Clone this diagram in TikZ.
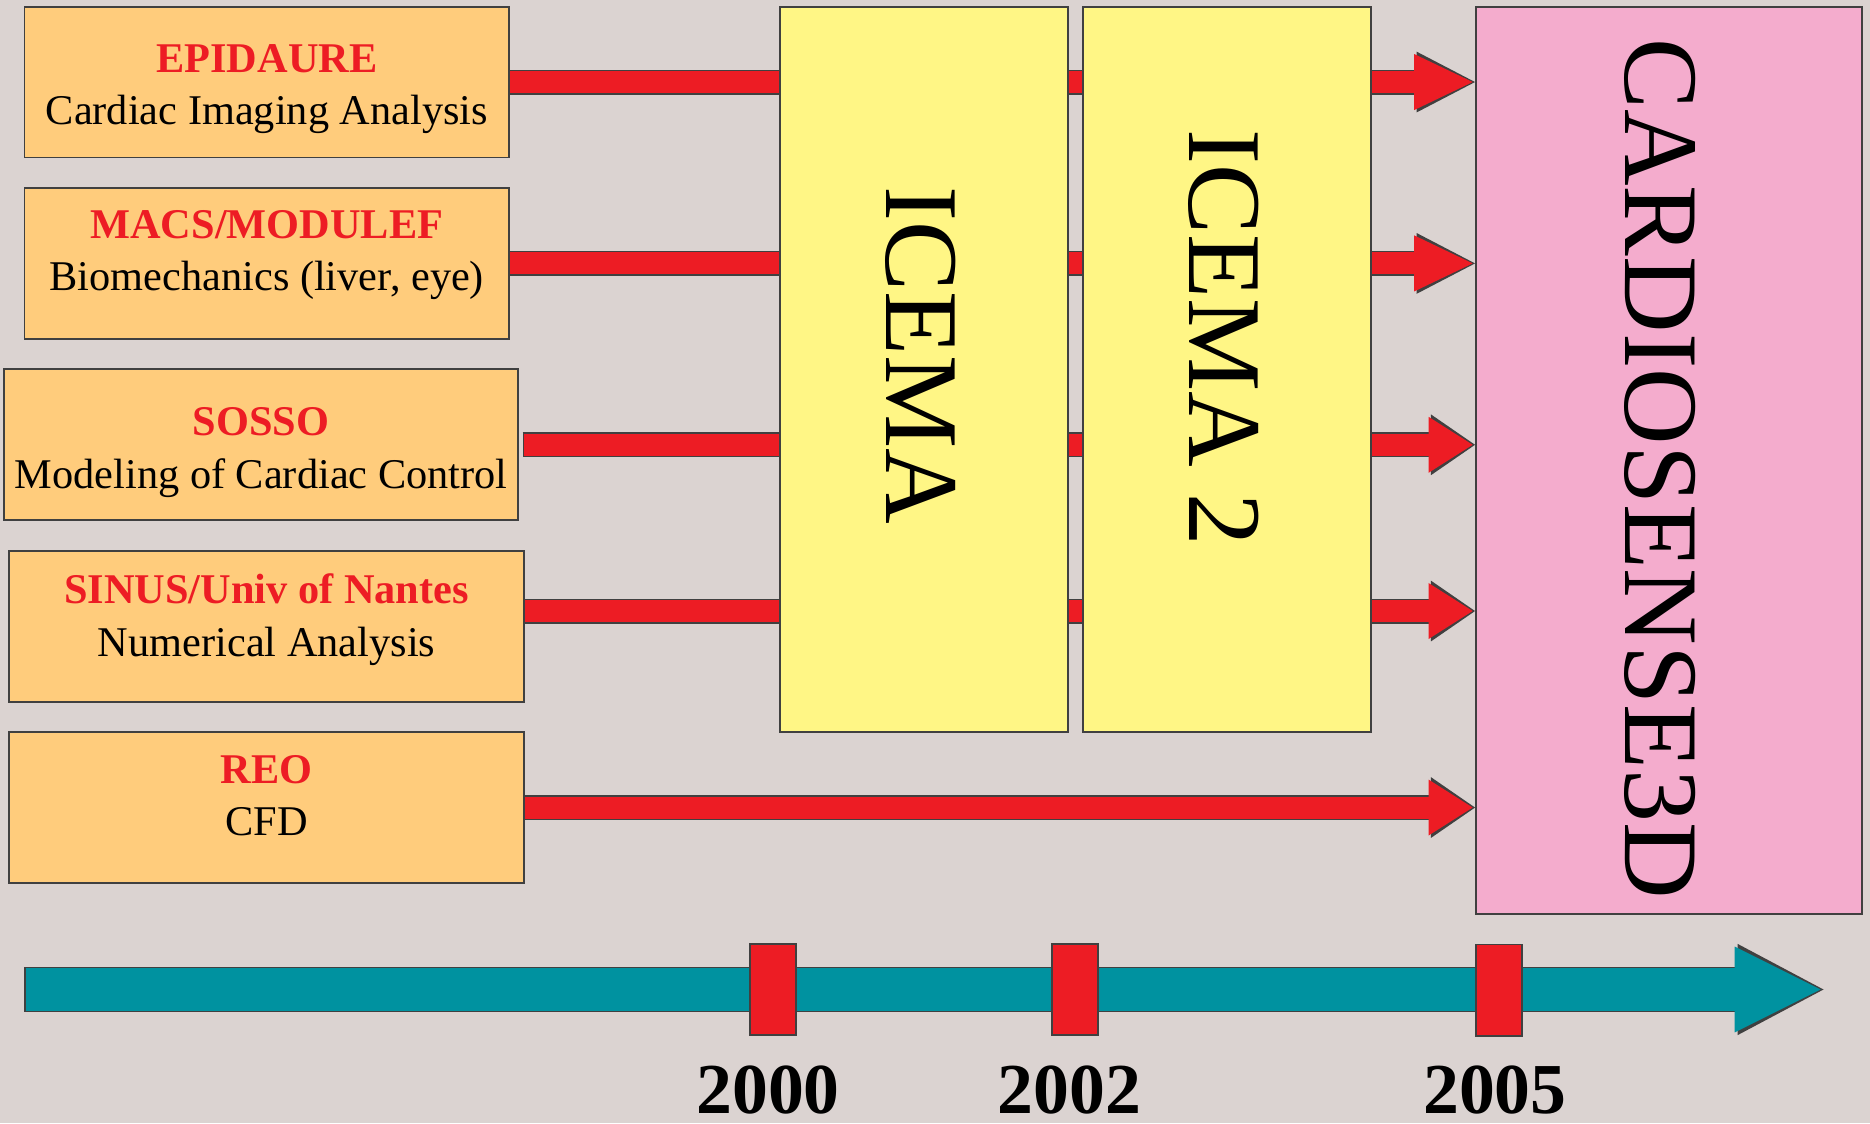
\documentclass[tikz,border=0pt]{standalone}
\usepackage{fontspec}
\setmainfont{Liberation Serif}
\usepackage{xcolor}
\usetikzlibrary{arrows.meta, positioning, calc, backgrounds}

\definecolor{pagebg}{RGB}{219,211,209}
\definecolor{labfill}{RGB}{255,204,124}
\definecolor{phasefill}{RGB}{255,246,133}
\definecolor{cardiofill}{RGB}{244,172,205}
\definecolor{barred}{RGB}{237,28,36}
\definecolor{timeteal}{RGB}{0,146,160}
\definecolor{edgegray}{RGB}{64,64,64}

\begin{document}
\begin{tikzpicture}[
  node distance=0.24cm and 0.108cm,
  lab/.style={rectangle, draw=edgegray, line width=0.45pt, fill=labfill, minimum width=4.065cm, minimum height=1.265cm, inner sep=0pt},
  labtext/.style={inner sep=0pt, align=center, font=\fontsize{10.1}{12.5}\selectfont},
  phase/.style={rectangle, draw=edgegray, line width=0.45pt, fill=phasefill, minimum width=2.415cm, minimum height=6.085cm, inner sep=0pt},
  bigtext/.style={rotate=-90, inner sep=0pt, font=\fontsize{25}{30}\selectfont},
  tick/.style={rectangle, draw=edgegray, line width=0.45pt, fill=barred, minimum width=0.385cm, minimum height=0.765cm, inner sep=0pt},
  year/.style={inner sep=0pt, font=\fontsize{17.1}{20}\selectfont\bfseries},
  flow/.style={draw=barred, line width=1.85mm, shorten >=0.2mm,
    -{Triangle[length=#1, width=4.7mm, line width=0pt]},
    preaction={draw=edgegray, line width=2.1mm, shorten <=-0.12mm, shorten >=0pt,
      -{Triangle[length=#1, width=5.1mm, line width=0pt]}}},
  timeline/.style={draw=timeteal, line width=3.6mm, shorten >=0.25mm,
    -{Triangle[length=7.2mm, width=7.2mm, line width=0pt]},
    preaction={draw=edgegray, line width=3.85mm, shorten <=-0.12mm, shorten >=0pt,
      -{Triangle[length=7.2mm, width=7.65mm, line width=0pt]}}}
]
\useasboundingbox (0,0) rectangle (15.68,-9.42);

% source projects
\node (epi) [lab] at (2.2375,-0.688) {};
\node (macs) [lab, below=of epi] {};
\node (sosso) [lab, minimum width=4.312cm, below=of macs, xshift=-0.0475cm] {};
\node (sinus) [lab, minimum width=4.317cm, below=of sosso, xshift=0.0455cm] {};
\node (reo) [lab, minimum width=4.317cm, below=of sinus] {};
\node (epitext) [labtext] at ([yshift=-0.06cm]epi.center) {\textcolor{barred}{\bfseries EPIDAURE}\\Cardiac Imaging Analysis};
\node (macstext) [labtext] at ([yshift=0.07cm]macs.center) {\textcolor{barred}{\bfseries MACS/MODULEF}\\Biomechanics (liver, eye)};
\node (sossotext) [labtext] at ([yshift=-0.065cm]sosso.center) {\textcolor{barred}{\bfseries SOSSO}\\Modeling of Cardiac Control};
\node (sinustext) [labtext] at ([yshift=0.055cm]sinus.center) {\textcolor{barred}{\bfseries SINUS/Univ of Nantes}\\Numerical Analysis};
\node (reotext) [labtext] at ([yshift=0.1cm]reo.center) {\textcolor{barred}{\bfseries REO}\\CFD};

% joint actions
\node (icema) [phase] at (7.7475,-3.098) {};
\node (icema2) [phase, right=of icema] {};
\node (cardio) [phase, fill=cardiofill, minimum width=3.234cm, minimum height=7.61cm] at (13.993,-3.861) {};
\node (icemalab) [bigtext] at ([xshift=-0.03cm, yshift=0.12cm]icema.center) {ICEMA};
\node (icema2lab) [bigtext] at ([xshift=-0.027cm, yshift=0.263cm]icema2.center) {ICEMA 2};
\node (cardiolab) [bigtext, font=\fontsize{25.3}{30}\selectfont] at ([xshift=-0.07cm, yshift=-0.069cm]cardio.center) {CARDIOSENSE3D};

% time axis
\coordinate (tstart) at (0.216,-8.297);
\coordinate (tend) at (15.29,-8.297);
\node (y2000) [tick] at (6.48,-8.298) {};
\node (y2002) [tick] at (9.015,-8.298) {};
\node (y2005) [tick] at (12.57,-8.302) {};
\node (l2000) [year, below=0.24cm of y2000, xshift=-0.04cm] {2000};
\node (l2002) [year, below=0.24cm of y2002, xshift=-0.05cm] {2002};
\node (l2005) [year, below=0.236cm of y2005, xshift=-0.035cm] {2005};

\begin{scope}[on background layer]
  \fill[pagebg] (0,0) rectangle (15.68,-9.42);
  \coordinate (sossoout) at ([xshift=0.04cm]sosso.east);
  \coordinate (sinusout) at ([yshift=0.127cm]sinus.east);
  \draw[flow=4.9mm] (epi.east) -- (epi.east -| cardio.west);
  \draw[flow=4.9mm] (macs.east) -- (macs.east -| cardio.west);
  \draw[flow=3.7mm] (sossoout) -- (sossoout -| cardio.west);
  \draw[flow=3.7mm] (sinusout) -- (sinusout -| cardio.west);
  \draw[flow=3.7mm] (reo.east) -- (reo.east -| cardio.west);
  \draw[timeline] (tstart) -- (tend);
\end{scope}
\end{tikzpicture}
\end{document}
